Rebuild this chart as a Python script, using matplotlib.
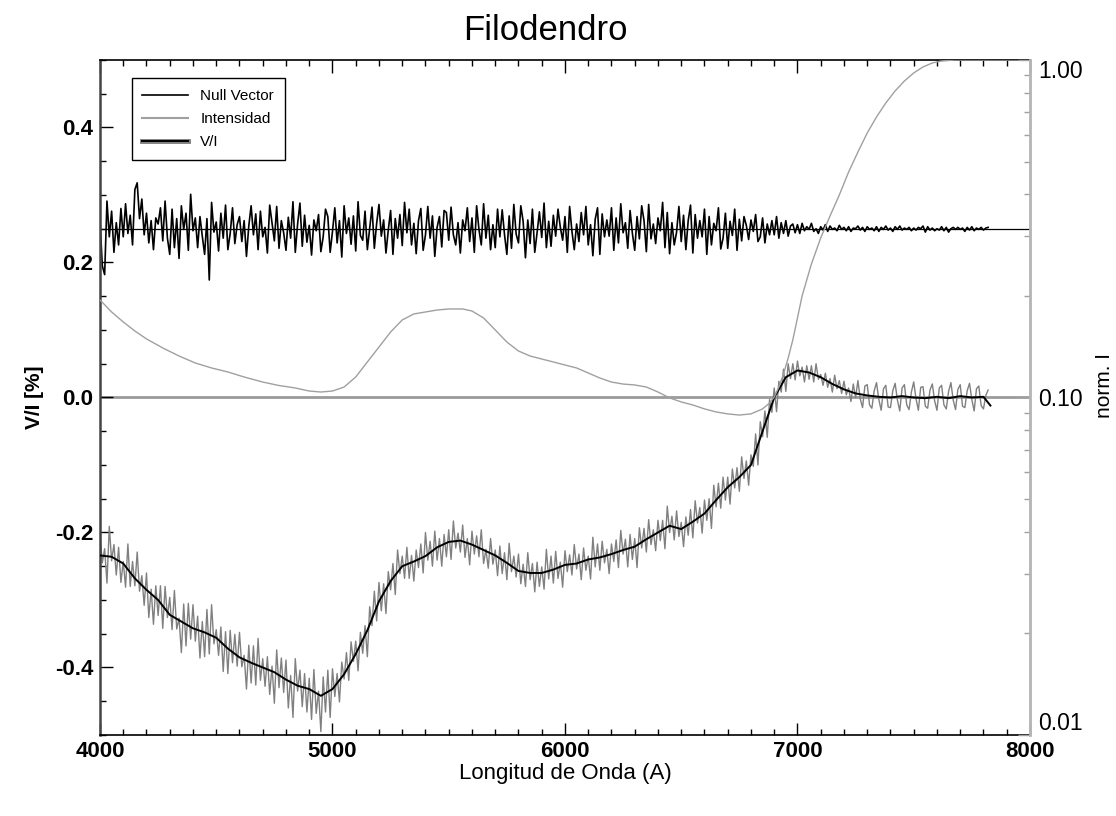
import matplotlib

matplotlib.use("Agg")

import matplotlib.pyplot as plt
import numpy as np
from matplotlib.legend_handler import HandlerTuple
from matplotlib.lines import Line2D
from matplotlib.ticker import LogLocator, MultipleLocator, NullFormatter


# spectrum sampling (Angstrom)
WAVE_START = 4000
WAVE_STEP = 10

null_vector = [
    0.262, 0.195, 0.182, 0.291, 0.238, 0.276, 0.215, 0.259, 0.226, 0.280,
    0.238, 0.287, 0.243, 0.270, 0.226, 0.308, 0.318, 0.265, 0.294, 0.241,
    0.273, 0.229, 0.262, 0.219, 0.266, 0.257, 0.281, 0.232, 0.291, 0.236,
    0.212, 0.279, 0.222, 0.265, 0.206, 0.284, 0.249, 0.273, 0.218, 0.301,
    0.247, 0.266, 0.222, 0.268, 0.239, 0.212, 0.265, 0.174, 0.289, 0.245,
    0.260, 0.217, 0.273, 0.236, 0.285, 0.219, 0.243, 0.281, 0.228, 0.256,
    0.268, 0.231, 0.262, 0.209, 0.254, 0.284, 0.241, 0.272, 0.219, 0.276,
    0.238, 0.252, 0.214, 0.285, 0.259, 0.232, 0.283, 0.221, 0.262, 0.244,
    0.218, 0.267, 0.236, 0.290, 0.215, 0.257, 0.288, 0.224, 0.270, 0.230,
    0.255, 0.211, 0.263, 0.247, 0.271, 0.216, 0.238, 0.279, 0.268, 0.215,
    0.246, 0.281, 0.229, 0.262, 0.208, 0.284, 0.243, 0.266, 0.227, 0.269,
    0.217, 0.290, 0.240, 0.233, 0.276, 0.219, 0.251, 0.282, 0.221, 0.258,
    0.286, 0.239, 0.263, 0.214, 0.248, 0.277, 0.212, 0.265, 0.236, 0.271,
    0.225, 0.289, 0.244, 0.279, 0.226, 0.258, 0.213, 0.262, 0.280, 0.218,
    0.241, 0.283, 0.236, 0.269, 0.209, 0.252, 0.268, 0.223, 0.277, 0.274,
    0.233, 0.282, 0.241, 0.226, 0.259, 0.214, 0.263, 0.247, 0.281, 0.231,
    0.266, 0.215, 0.284, 0.249, 0.226, 0.287, 0.236, 0.270, 0.219, 0.256,
    0.222, 0.279, 0.238, 0.278, 0.241, 0.212, 0.269, 0.221, 0.286, 0.242,
    0.229, 0.284, 0.261, 0.207, 0.263, 0.228, 0.279, 0.215, 0.244, 0.275,
    0.237, 0.288, 0.222, 0.261, 0.224, 0.270, 0.239, 0.279, 0.252, 0.233,
    0.268, 0.215, 0.283, 0.246, 0.219, 0.257, 0.231, 0.274, 0.241, 0.283,
    0.226, 0.256, 0.210, 0.264, 0.281, 0.212, 0.272, 0.238, 0.263, 0.239,
    0.281, 0.218, 0.266, 0.229, 0.287, 0.244, 0.259, 0.221, 0.277, 0.243,
    0.218, 0.268, 0.235, 0.284, 0.262, 0.216, 0.286, 0.235, 0.257, 0.228,
    0.266, 0.247, 0.289, 0.222, 0.274, 0.213, 0.259, 0.226, 0.245, 0.283,
    0.231, 0.270, 0.219, 0.262, 0.285, 0.214, 0.271, 0.236, 0.262, 0.238,
    0.279, 0.212, 0.268, 0.226, 0.258, 0.247, 0.281, 0.220, 0.236, 0.273,
    0.221, 0.261, 0.240, 0.279, 0.218, 0.264, 0.232, 0.268, 0.255, 0.234,
    0.263, 0.246, 0.271, 0.231, 0.238, 0.266, 0.229, 0.257, 0.241, 0.262,
    0.241, 0.268, 0.236, 0.259, 0.243, 0.262, 0.239, 0.254, 0.257, 0.244,
    0.256, 0.243, 0.258, 0.247, 0.253, 0.249, 0.258, 0.246, 0.250, 0.243,
    0.253, 0.248, 0.256, 0.246, 0.254, 0.249, 0.251, 0.247, 0.255, 0.249,
    0.252, 0.247, 0.253, 0.246, 0.251, 0.250, 0.254, 0.248, 0.252, 0.246,
    0.253, 0.249, 0.251, 0.247, 0.253, 0.246, 0.252, 0.249, 0.254, 0.248,
    0.251, 0.246, 0.253, 0.249, 0.254, 0.248, 0.251, 0.249, 0.252, 0.247,
    0.251, 0.248, 0.252, 0.250, 0.254, 0.245, 0.253, 0.248, 0.251, 0.247,
    0.250, 0.248, 0.253, 0.247, 0.252, 0.245, 0.250, 0.252, 0.249, 0.252,
    0.249, 0.251, 0.246, 0.252, 0.248, 0.253, 0.247, 0.251, 0.249, 0.252,
    0.248, 0.251, 0.252,
]

vi_noisy = [
    -0.204, -0.245, -0.224, -0.275, -0.191, -0.242, -0.218, -0.263, -0.222, -0.274,
    -0.243, -0.281, -0.217, -0.280, -0.243, -0.279, -0.229, -0.287, -0.264, -0.308,
    -0.260, -0.326, -0.284, -0.336, -0.279, -0.323, -0.279, -0.342, -0.280, -0.326,
    -0.296, -0.344, -0.286, -0.343, -0.327, -0.378, -0.306, -0.368, -0.305, -0.358,
    -0.307, -0.361, -0.324, -0.386, -0.332, -0.384, -0.314, -0.380, -0.307, -0.365,
    -0.344, -0.382, -0.340, -0.406, -0.347, -0.409, -0.345, -0.393, -0.351, -0.398,
    -0.348, -0.399, -0.382, -0.432, -0.367, -0.423, -0.368, -0.426, -0.357, -0.419,
    -0.387, -0.428, -0.384, -0.440, -0.398, -0.453, -0.374, -0.430, -0.386, -0.437,
    -0.389, -0.460, -0.412, -0.474, -0.387, -0.435, -0.404, -0.458, -0.409, -0.466,
    -0.416, -0.477, -0.403, -0.468, -0.435, -0.495, -0.414, -0.466, -0.404, -0.474,
    -0.402, -0.443, -0.409, -0.451, -0.392, -0.417, -0.378, -0.419, -0.362, -0.391,
    -0.361, -0.405, -0.348, -0.379, -0.338, -0.384, -0.310, -0.338, -0.287, -0.331,
    -0.274, -0.316, -0.276, -0.320, -0.258, -0.285, -0.246, -0.292, -0.226, -0.261,
    -0.235, -0.268, -0.222, -0.268, -0.234, -0.272, -0.226, -0.252, -0.217, -0.260,
    -0.200, -0.241, -0.213, -0.250, -0.198, -0.241, -0.209, -0.250, -0.203, -0.236,
    -0.196, -0.240, -0.183, -0.223, -0.201, -0.229, -0.189, -0.237, -0.209, -0.248,
    -0.198, -0.232, -0.205, -0.236, -0.196, -0.246, -0.225, -0.253, -0.209, -0.247,
    -0.226, -0.264, -0.220, -0.261, -0.230, -0.270, -0.216, -0.258, -0.235, -0.266,
    -0.232, -0.276, -0.247, -0.280, -0.230, -0.270, -0.246, -0.288, -0.244, -0.280,
    -0.251, -0.284, -0.225, -0.269, -0.235, -0.275, -0.228, -0.268, -0.244, -0.281,
    -0.227, -0.258, -0.233, -0.263, -0.218, -0.254, -0.232, -0.270, -0.223, -0.256,
    -0.235, -0.269, -0.207, -0.251, -0.217, -0.256, -0.213, -0.245, -0.225, -0.261,
    -0.217, -0.243, -0.211, -0.252, -0.197, -0.232, -0.210, -0.251, -0.203, -0.240,
    -0.209, -0.252, -0.193, -0.223, -0.194, -0.229, -0.181, -0.218, -0.196, -0.227,
    -0.182, -0.212, -0.182, -0.224, -0.161, -0.200, -0.176, -0.211, -0.168, -0.206,
    -0.185, -0.221, -0.177, -0.204, -0.166, -0.208, -0.153, -0.186, -0.163, -0.201,
    -0.152, -0.182, -0.150, -0.194, -0.130, -0.162, -0.127, -0.164, -0.118, -0.152,
    -0.118, -0.158, -0.106, -0.134, -0.104, -0.139, -0.088, -0.120, -0.094, -0.130,
    -0.085, -0.102, -0.054, -0.100, -0.036, -0.058, -0.020, -0.059, -0.003, -0.022,
    0.014, -0.021, 0.024, 0.008, 0.042, 0.009, 0.050, 0.028, 0.050, 0.026,
    0.054, 0.032, 0.045, 0.023, 0.047, 0.027, 0.047, 0.023, 0.050, 0.027,
    0.034, 0.018, 0.036, 0.015, 0.028, 0.008, 0.033, 0.013, 0.025, 0.006,
    0.024, 0.004, 0.014, -0.006, 0.020, 0.000, 0.025, -0.002, -0.015, 0.017,
    0.019, -0.011, -0.016, 0.010, 0.022, -0.003, -0.019, 0.013, 0.018, -0.014,
    -0.015, 0.010, 0.021, -0.004, -0.020, 0.014, 0.019, -0.011, -0.018, 0.008,
    0.023, -0.002, -0.019, 0.015, 0.016, -0.013, -0.016, 0.011, 0.020, -0.005,
    -0.019, 0.014, 0.018, -0.011, -0.017, 0.009, 0.022, -0.004, -0.018, 0.012,
    0.019, -0.013, -0.015, 0.010, 0.021, -0.003, -0.020, 0.013, 0.017, -0.012,
    -0.017, 0.003, 0.011,
]

smooth_wave = list(range(4000, 7850, 50)) + [7830]
smooth_vi = [
    -0.234, -0.236, -0.246, -0.268, -0.285, -0.300, -0.322, -0.332, -0.342, -0.348,
    -0.356, -0.372, -0.385, -0.393, -0.400, -0.407, -0.418, -0.427, -0.432, -0.442,
    -0.432, -0.410, -0.380, -0.345, -0.302, -0.272, -0.250, -0.243, -0.235, -0.222,
    -0.214, -0.212, -0.218, -0.226, -0.234, -0.245, -0.257, -0.260, -0.260, -0.255,
    -0.248, -0.246, -0.240, -0.237, -0.232, -0.226, -0.221, -0.210, -0.200, -0.190,
    -0.195, -0.184, -0.172, -0.152, -0.133, -0.118, -0.100, -0.050, 0.000, 0.030,
    0.040, 0.037, 0.030, 0.020, 0.012, 0.006, 0.003, 0.001, 0.000, 0.002,
    0.000, -0.001, 0.001, -0.001, 0.002, 0.000, 0.001, -0.012,
]

int_wave = [
    4000, 4050, 4100, 4150, 4200, 4270, 4340, 4410, 4480, 4550,
    4620, 4700, 4770, 4840, 4900, 4950, 5000, 5050, 5100, 5150,
    5200, 5250, 5300, 5350, 5400, 5450, 5500, 5560, 5600, 5650,
    5700, 5750, 5800, 5850, 5900, 5950, 6000, 6050, 6100, 6150,
    6200, 6250, 6300, 6350, 6400, 6450, 6500, 6550, 6600, 6650,
    6700, 6750, 6800, 6850, 6880, 6900, 6920, 6940, 6960, 6980,
    7000, 7020, 7060, 7100, 7140, 7180, 7220, 7260, 7300, 7340,
    7380, 7420, 7460, 7500, 7540, 7580, 7620, 7680, 8000,
]
int_norm = [
    0.1945, 0.1792, 0.1674, 0.1574, 0.1491, 0.1402, 0.1327, 0.1265, 0.1223, 0.1190,
    0.1150, 0.1111, 0.1085, 0.1067, 0.1045, 0.1038, 0.1045, 0.1074, 0.1150, 0.1274,
    0.1411, 0.1563, 0.1697, 0.1768, 0.1792, 0.1816, 0.1829, 0.1829, 0.1804, 0.1720,
    0.1585, 0.1460, 0.1373, 0.1327, 0.1300, 0.1274, 0.1248, 0.1223, 0.1182, 0.1142,
    0.1111, 0.1096, 0.1089, 0.1074, 0.1038, 0.0997, 0.0970, 0.0950, 0.0925, 0.0906,
    0.0894, 0.0887, 0.0894, 0.0925, 0.0963, 0.1003, 0.1074, 0.1174, 0.1309, 0.1481,
    0.1720, 0.2000, 0.2486, 0.2970, 0.3449, 0.3981, 0.4657, 0.5337, 0.6076, 0.6779,
    0.7459, 0.8093, 0.8665, 0.9152, 0.9535, 0.9797, 0.9930, 1.0000, 1.0000,
]

x_ticks = [4000, 5000, 6000, 7000, 8000]
x_tick_labels = ["4000", "5000", "6000", "7000", "8000"]
y_ticks = [-0.4, -0.2, 0.0, 0.2, 0.4]
y_tick_labels = ["-0.4", "-0.2", "0.0", "0.2", "0.4"]
r_ticks = [0.01, 0.1, 1.0]
r_tick_labels = ["0.01", "0.10", "1.00"]
legend_labels = ["Null Vector", "Intensidad", "V/I"]

wave = WAVE_START + WAVE_STEP * np.arange(len(null_vector))

plt.rcParams["font.family"] = ["Liberation Sans", "DejaVu Sans"]

fig = plt.figure(figsize=(11.16, 8.16), dpi=100)
ax = fig.add_axes([0.0896, 0.0993, 0.8333, 0.8272])

ax.axhline(0.0, color="#9a9a9a", lw=2, zorder=1)
ax.axhline(0.25, color="black", lw=0.9, zorder=1)
ax.plot(wave, null_vector, color="black", lw=1.2, zorder=2)
ax.plot(wave, vi_noisy, color="#808080", lw=1.0, zorder=2)
ax.plot(smooth_wave, smooth_vi, color="black", lw=1.4, zorder=3)

ax.set_xlim(4000, 8000)
ax.set_ylim(-0.5, 0.5)

ax2 = ax.twinx()
ax2.plot(int_wave, int_norm, color="#a0a0a0", lw=1.0)
ax2.set_yscale("log")
ax2.set_ylim(0.01, 1.0)

# left / bottom / top axes, IDL style inward ticks
ax.set_xticks(x_ticks)
ax.set_xticklabels(x_tick_labels, fontweight="bold")
ax.set_yticks(y_ticks)
ax.set_yticklabels(y_tick_labels, fontweight="bold")
ax.xaxis.set_minor_locator(MultipleLocator(100))
ax.yaxis.set_minor_locator(MultipleLocator(0.05))
ax.tick_params(which="both", direction="in", top=True, bottom=True,
               left=True, right=False, width=1)
ax.tick_params(which="major", length=9)
ax.tick_params(which="minor", length=4.5)
ax.tick_params(axis="x", labelsize=16, pad=4)
ax.tick_params(axis="y", labelsize=16, pad=5)

for side in ["top", "bottom"]:
    ax.spines[side].set_linewidth(1.2)
ax.spines["left"].set_linewidth(1.8)
ax.spines["left"].set_color("#444444")
ax.spines["right"].set_visible(False)

# right log axis
ax2.set_yticks(r_ticks)
ax2.set_yticklabels(r_tick_labels)
ax2.yaxis.set_minor_locator(LogLocator(base=10, subs=range(2, 10)))
ax2.yaxis.set_minor_formatter(NullFormatter())
ax2.tick_params(which="both", direction="in", color="#a0a0a0",
                labelcolor="black", width=1)
ax2.tick_params(which="major", length=9, labelsize=16.5, pad=6)
ax2.tick_params(which="minor", length=4.5)
r_labels = ax2.get_yticklabels()
r_labels[0].set_verticalalignment("bottom")
r_labels[-1].set_verticalalignment("top")
for side in ["top", "bottom", "left"]:
    ax2.spines[side].set_visible(False)
ax2.spines["right"].set_color("#b4b4b4")
ax2.spines["right"].set_linewidth(2)

handles = [
    Line2D([], [], color="black", lw=1.2),
    Line2D([], [], color="#a0a0a0", lw=1.5),
    (Line2D([], [], color="#808080", lw=3.5), Line2D([], [], color="black", lw=1.4)),
]
leg = ax2.legend(handles, legend_labels, loc="upper left",
                 bbox_to_anchor=(0.034, 0.973), borderaxespad=0,
                 fancybox=False, edgecolor="black", framealpha=1,
                 fontsize=11, handlelength=3, borderpad=0.7,
                 labelspacing=0.6,
                 handler_map={tuple: HandlerTuple(ndivide=1)})
leg.get_frame().set_linewidth(1)

fig.text(545 / 1116, 1 - 30 / 816, "Filodendro", ha="center", va="center",
         fontsize=25)
fig.text(565 / 1116, 1 - 773 / 816, "Longitud de Onda (A)", ha="center",
         va="center", fontsize=16)
fig.text(35 / 1116, 1 - 397 / 816, "V/I [%]", ha="center", va="center",
         rotation=90, fontsize=15, fontweight="bold")
fig.text(1105 / 1116, 1 - 385 / 816, "norm. I", ha="center", va="center",
         rotation=90, fontsize=15)

fig.savefig("out.png", dpi=100)
